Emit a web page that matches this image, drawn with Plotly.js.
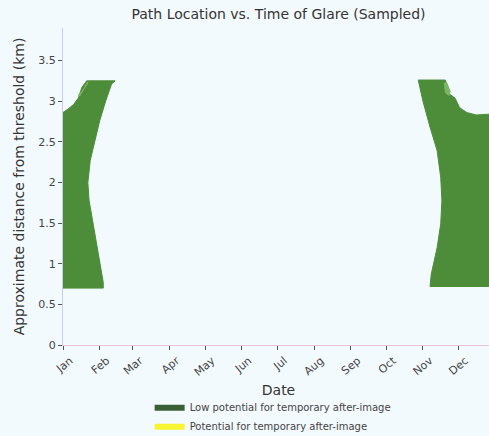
<!DOCTYPE html>
<html>
<head>
<meta charset="utf-8">
<script src="https://cdn.plot.ly/plotly-3.0.1.min.js"></script>
<style>
  html, body { margin: 0; padding: 0; overflow: hidden; background: #f3fafd; }
  #chart { width: 512px; height: 436px; }
</style>
</head>
<body>
<div id="chart"></div>
<script>
// Glare footprint, January side: outline of the sampled glare points (date, km from threshold)
const janDates = ['2022-01-01','2022-01-01','2022-01-05','2022-01-10','2022-01-14','2022-01-17','2022-01-21',
                  '2022-02-14','2022-02-11','2022-02-06','2022-02-01','2022-01-28','2022-01-24','2022-01-22',
                  '2022-01-23','2022-01-26','2022-01-29','2022-02-01','2022-02-04','2022-02-04','2022-01-01'];
const janDist  = [0.70, 2.86, 2.90, 2.96, 3.04, 3.17, 3.25,
                  3.25, 3.21, 3.00, 2.76, 2.51, 2.27, 2.00,
                  1.78, 1.53, 1.28, 1.04, 0.77, 0.70, 0.70];

// Glare footprint, November/December side
const decDates = ['2022-10-28','2022-11-20','2022-11-21','2022-11-22','2022-11-28','2022-12-02','2022-12-08',
                  '2022-12-16','2022-12-27','2022-12-31','2022-12-31','2022-11-07','2022-11-08','2022-11-10',
                  '2022-11-13','2022-11-16','2022-11-17','2022-11-16','2022-11-13','2022-11-07','2022-11-01','2022-10-28'];
const decDist  = [3.26, 3.26, 3.20, 3.10, 3.04, 2.92, 2.86,
                  2.83, 2.84, 2.84, 0.72, 0.72, 0.87, 1.00,
                  1.20, 1.49, 1.78, 2.06, 2.39, 2.68, 3.00, 3.26];

// Sparser sample patches near the top of each footprint
const janSparseDates = ['2022-01-14','2022-01-17','2022-01-21','2022-01-22','2022-01-19','2022-01-15','2022-01-14'];
const janSparseDist  = [3.08, 3.12, 3.20, 3.24, 3.16, 3.06, 3.08];
const decSparseDates = ['2022-11-19','2022-11-21','2022-11-24','2022-11-23','2022-11-20','2022-11-19'];
const decSparseDist  = [3.22, 3.23, 3.12, 3.07, 3.10, 3.22];

// Points with potential for temporary after-image: none in this sample
const yellowDates = [];
const yellowDist  = [];

const legendNames = ['Low potential for temporary after-image', 'Potential for temporary after-image'];
const tickMonths = ['Jan','Feb','Mar','Apr','May','Jun','Jul','Aug','Sep','Oct','Nov','Dec'];

const green = '#4d8d3a';
const greenLight = '#7cb566';
const greenKey = '#3a6036';
const yellow = '#f7f430';

function region(x, y, color, group) {
  return {
    type: 'scatter', mode: 'lines', x: x, y: y,
    fill: 'toself', fillcolor: color,
    line: { color: color, width: 1 },
    legendgroup: group, showlegend: false, hoverinfo: 'skip'
  };
}

const traces = [
  region(janDates, janDist, green, 'low'),
  region(decDates, decDist, green, 'low'),
  region(janSparseDates, janSparseDist, greenLight, 'low'),
  region(decSparseDates, decSparseDist, greenLight, 'low'),
  { type: 'scatter', mode: 'lines', x: [null], y: [null], name: legendNames[0],
    fill: 'toself', fillcolor: greenKey, line: { color: greenKey, width: 0 },
    legendgroup: 'low', showlegend: true },
  { type: 'scatter', mode: 'lines', x: yellowDates.length ? yellowDates : [null],
    y: yellowDist.length ? yellowDist : [null], name: legendNames[1],
    fill: 'toself', fillcolor: yellow, line: { color: yellow, width: 0 },
    legendgroup: 'high', showlegend: true }
];

const tickVals = tickMonths.map((m, i) => '2022-' + String(i + 1).padStart(2, '0') + '-01');

const font = { family: 'DejaVu Sans, sans-serif', color: '#444' };

const layout = {
  width: 512, height: 436,
  margin: { l: 63, r: 18, t: 28, b: 91, autoexpand: false },
  paper_bgcolor: '#f3fafd', plot_bgcolor: '#f3fafd',
  font: font,
  title: { text: 'Path Location vs. Time of Glare (Sampled)', font: { family: font.family, size: 14, color: '#333' },
           x: 0.5, xref: 'paper', xanchor: 'center', y: 0.968, yref: 'container', yanchor: 'middle' },
  xaxis: {
    type: 'date', range: ['2022-01-01', '2022-12-31'], automargin: false,
    tickvals: tickVals, ticktext: tickMonths, tickangle: -40,
    ticks: 'outside', ticklen: 4, tickcolor: '#555', tickfont: { size: 11, color: '#444' },
    ticklabelshift: 7,
    showline: true, linecolor: '#e7c3de', linewidth: 1, showgrid: false, zeroline: false,
    title: { text: 'Date', font: { size: 14, color: '#333' }, standoff: 7 }
  },
  yaxis: {
    range: [0, 3.9], dtick: 0.5, tick0: 0, automargin: false,
    ticks: 'outside', ticklen: 4, tickcolor: '#555', tickfont: { size: 11, color: '#444' },
    showline: true, linecolor: '#cacbe8', linewidth: 1, showgrid: false, zeroline: false,
    title: { text: 'Approximate distance from threshold (km)', font: { size: 14, color: '#333' }, standoff: 10 }
  },
  showlegend: true,
  legend: {
    orientation: 'v', x: 0.201, xanchor: 'left', y: -0.149, yanchor: 'top',
    bgcolor: 'rgba(0,0,0,0)', font: { size: 10, color: '#444' }, tracegroupgap: 0
  }
};

Plotly.newPlot('chart', traces, layout, { displayModeBar: false, staticPlot: true });
</script>
</body>
</html>
